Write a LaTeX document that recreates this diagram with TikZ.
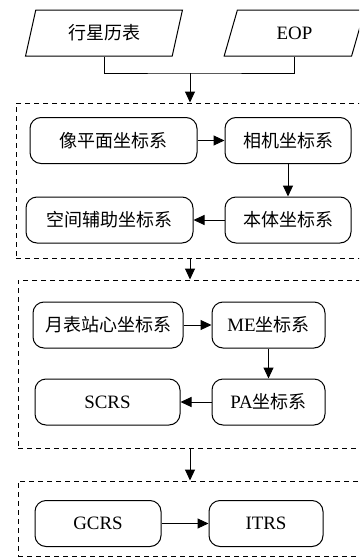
\documentclass[tikz,border=0pt]{standalone}
\usepackage{fontspec}
\setmainfont[Scale=1.05]{Liberation Serif}
\newfontfamily\cjk{Noto Sans CJK SC}
\newcommand{\zh}[1]{{\cjk #1}}
\usetikzlibrary{arrows.meta,shapes.geometric}

\begin{document}
\begin{tikzpicture}[x=1pt,y=-1pt,font=\fontsize{18}{21}\selectfont,line width=1pt]
\tikzset{io/.style={draw,trapezium,trapezium left angle=72,trapezium right angle=108,trapezium stretches,minimum height=46pt,inner sep=0pt}, crs/.style={draw,rounded corners=11pt,minimum height=46pt,inner sep=0pt}, frame/.style={draw,dash pattern=on 5pt off 4pt,inner sep=0pt}, flow/.style={-{Triangle[length=11pt,width=10pt]}}}
\useasboundingbox (0,0) rectangle (359,557);
\clip (0,0) rectangle (359,557);
% Inputs on top, joined before entering the first stage.
\node[io,minimum width=158pt] (eph) at (104,33) {\zh{行星历表}};
\node[io,minimum width=141pt] (eop) at (294.5,33) {EOP};
\coordinate (join) at (190,73);
\draw (eph.south) |- (join) -| (eop.south);
% Stage frames.
\node[frame,minimum width=348pt,minimum height=155pt] (stage1) at (190,180.5) {};
\node[frame,minimum width=344pt,minimum height=168pt] (stage2) at (190,364) {};
\node[frame,minimum width=344pt,minimum height=75pt] (stage3) at (190,518.5) {};
\draw[flow] (join) -- (stage1.north);
\draw[flow] (stage1.south) -- (stage2.north);
\draw[flow] (stage2.south) -- (stage3.north);
% Stage 1
\node[crs,minimum width=167pt] (img) at (113.5,140.5) {\zh{像平面坐标系}};
\node[crs,minimum width=126pt] (cam) at (288,140.5) {\zh{相机坐标系}};
\node[crs,minimum width=167pt] (aux) at (109.5,220) {\zh{空间辅助坐标系}};
\node[crs,minimum width=126pt] (body) at (288,220) {\zh{本体坐标系}};
\draw[flow] (img) -- (cam);
\draw[flow] (cam) -- (body);
\draw[flow] (body) -- (aux);
% Stage 2
\node[crs,minimum width=150pt] (topo) at (108,325) {\zh{月表站心坐标系}};
\node[crs,minimum width=113pt] (me) at (268.5,325) {ME\zh{坐标系}};
\node[crs,minimum width=145pt] (scrs) at (107.5,402) {SCRS};
\node[crs,minimum width=113pt] (pa) at (268.5,402) {PA\zh{坐标系}};
\draw[flow] (topo) -- (me);
\draw[flow] (me) -- (pa);
\draw[flow] (pa) -- (scrs);
% Stage 3
\node[crs,minimum width=126pt] (gcrs) at (98,523.5) {GCRS};
\node[crs,minimum width=114pt] (itrs) at (266,523.5) {ITRS};
\draw[flow] (gcrs) -- (itrs);
\end{tikzpicture}
\end{document}
